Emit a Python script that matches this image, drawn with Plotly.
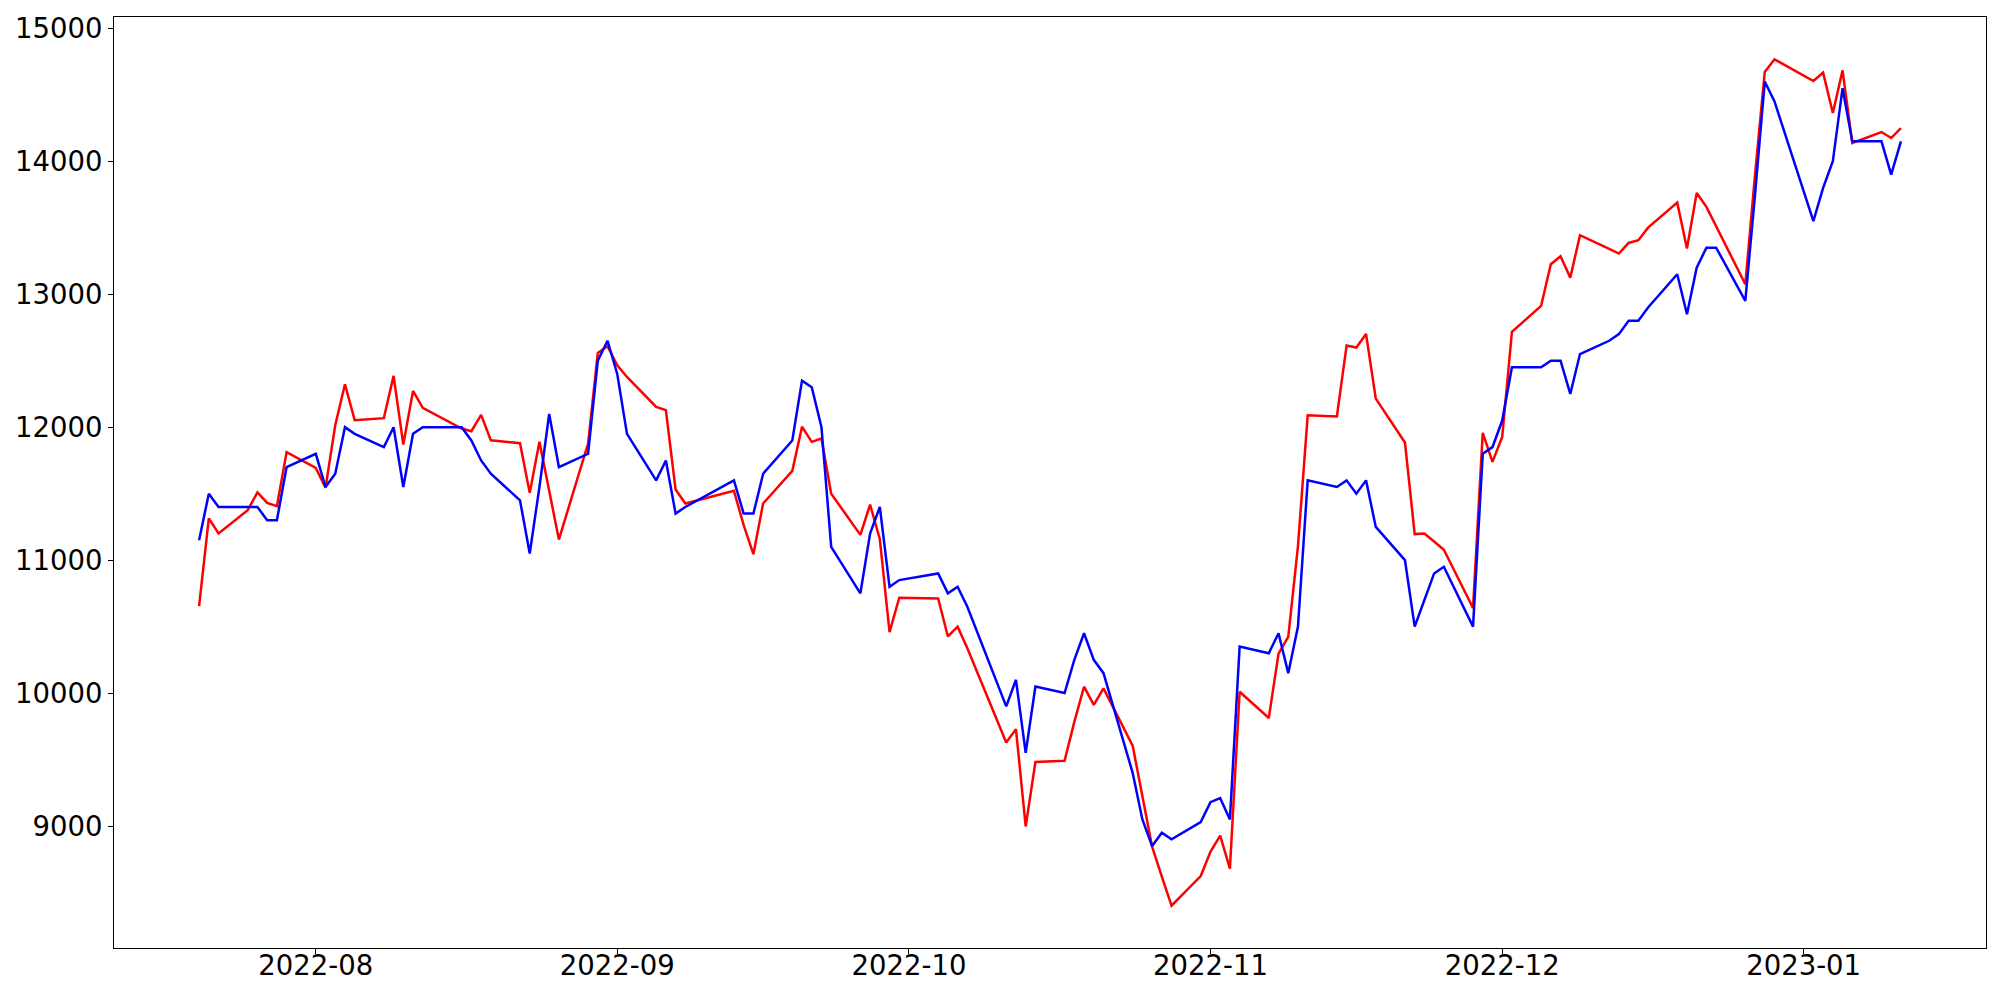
import plotly.graph_objects as go
import pandas as pd

dates = [
    "2022-07-20", "2022-07-21", "2022-07-22", "2022-07-25", "2022-07-26", "2022-07-27", "2022-07-28", "2022-07-29",
    "2022-08-01", "2022-08-02", "2022-08-03", "2022-08-04", "2022-08-05", "2022-08-08", "2022-08-09", "2022-08-10",
    "2022-08-11", "2022-08-12", "2022-08-16", "2022-08-17", "2022-08-18", "2022-08-19", "2022-08-22", "2022-08-23",
    "2022-08-24", "2022-08-25", "2022-08-26", "2022-08-29", "2022-08-30", "2022-08-31",
    "2022-09-01", "2022-09-02", "2022-09-05", "2022-09-06", "2022-09-07", "2022-09-08", "2022-09-13", "2022-09-14",
    "2022-09-15", "2022-09-16", "2022-09-19", "2022-09-20", "2022-09-21", "2022-09-22", "2022-09-23", "2022-09-26",
    "2022-09-27", "2022-09-28", "2022-09-29", "2022-09-30",
    "2022-10-04", "2022-10-05", "2022-10-06", "2022-10-07", "2022-10-11", "2022-10-12", "2022-10-13", "2022-10-14",
    "2022-10-17", "2022-10-18", "2022-10-19", "2022-10-20", "2022-10-21", "2022-10-24", "2022-10-25", "2022-10-26",
    "2022-10-27", "2022-10-28", "2022-10-31",
    "2022-11-01", "2022-11-02", "2022-11-03", "2022-11-04", "2022-11-07", "2022-11-08", "2022-11-09", "2022-11-10",
    "2022-11-11", "2022-11-14", "2022-11-15", "2022-11-16", "2022-11-17", "2022-11-18", "2022-11-21", "2022-11-22",
    "2022-11-23", "2022-11-24", "2022-11-25", "2022-11-28", "2022-11-29", "2022-11-30",
    "2022-12-01", "2022-12-02", "2022-12-05", "2022-12-06", "2022-12-07", "2022-12-08", "2022-12-09", "2022-12-12",
    "2022-12-13", "2022-12-14", "2022-12-15", "2022-12-16", "2022-12-19", "2022-12-20", "2022-12-21", "2022-12-22",
    "2022-12-23", "2022-12-26", "2022-12-27", "2022-12-28", "2022-12-29",
    "2023-01-02", "2023-01-03", "2023-01-04", "2023-01-05", "2023-01-06", "2023-01-09", "2023-01-10", "2023-01-11",
]

actual = [
    11150, 11500, 11400, 11400, 11400, 11300, 11300, 11700,
    11800, 11550, 11650, 12000, 11950, 11850, 12000, 11550,
    11950, 12000, 12000, 11900, 11750, 11650, 11450, 11050,
    11550, 12100, 11700, 11800, 12500, 12650,
    12400, 11950, 11600, 11750, 11350, 11400, 11600, 11350,
    11350, 11650, 11900, 12350, 12300, 12000, 11100, 10750,
    11200, 11400, 10800, 10850,
    10900, 10750, 10800, 10650, 9900, 10100, 9550, 10050,
    10000, 10250, 10450, 10250, 10150, 9400, 9050, 8850,
    8950, 8900, 9030,
    9180, 9210, 9050, 10350, 10300, 10450, 10150, 10500,
    11600, 11550, 11600, 11500, 11600, 11250, 11000, 10500,
    10700, 10900, 10950, 10500, 11800, 11850,
    12050, 12450, 12450, 12500, 12500, 12250, 12550, 12650,
    12700, 12800, 12800, 12900, 13150, 12850, 13200, 13350,
    13350, 12950, 13750, 14600, 14450,
    13550, 13800, 14000, 14550, 14150, 14150, 13900, 14150,
]

predicted = [
    10654, 11314, 11201, 11376, 11509, 11431, 11406, 11812,
    11694, 11544, 12015, 12323, 12053, 12068, 12386, 11870,
    12273, 12145, 11990, 11970, 12093, 11902, 11880, 11506,
    11890, 11520, 11155, 11877, 12559, 12609,
    12466, 12378, 12153, 12128, 11531, 11426, 11521, 11263,
    11045, 11426, 11672, 12003, 11890, 11915, 11500, 11190,
    11418, 11158, 10458, 10717,
    10712, 10426, 10500, 10337, 9628, 9729, 8997, 9482,
    9491, 9783, 10048, 9912, 10035, 9605, 9230, 8845,
    8619, 8401, 8624,
    8807, 8928, 8680, 10010, 9813, 10297, 10423, 11106,
    12089, 12081, 12615, 12599, 12701, 12215, 11885, 11196,
    11201, 11140, 11078, 10640, 11957, 11739,
    11927, 12717, 12912, 13226, 13286, 13125, 13444, 13341,
    13306, 13386, 13406, 13501, 13689, 13344, 13762, 13657,
    13514, 13075, 13900, 14672, 14767,
    14604, 14667, 14363, 14684, 14138, 14220, 14175, 14250,
]

y_ticks = [9000, 10000, 11000, 12000, 13000, 14000, 15000]

x = pd.to_datetime(dates)

fig = go.Figure()
fig.add_trace(go.Scatter(x=x, y=predicted, mode="lines",
                         line=dict(color="#ff0000", width=2.5), name="predicted"))
fig.add_trace(go.Scatter(x=x, y=actual, mode="lines",
                         line=dict(color="#0000ff", width=2.5), name="actual"))

# matplotlib-like 5% margins
xmin, xmax = x.min(), x.max()
xspan = xmax - xmin
allv = actual + predicted
vmin, vmax = min(allv), max(allv)
vspan = vmax - vmin

font = dict(family="DejaVu Sans", size=27.5, color="#000000")
axis_common = dict(showline=True, linecolor="#000000", linewidth=1.1, mirror=True,
                   ticks="outside", ticklen=5, tickwidth=1.1, tickcolor="#000000",
                   showgrid=False, zeroline=False, tickfont=font, automargin=False)

fig.update_xaxes(range=[xmin - 0.05 * xspan, xmax + 0.05 * xspan],
                 tickformat="%Y-%m", dtick="M1", tick0="2022-08-01",
                 ticklabelposition="outside", ticklabelstandoff=-12, **axis_common)
fig.update_yaxes(range=[vmin - 0.05 * vspan, vmax + 0.05 * vspan],
                 tickvals=y_ticks, ticktext=[str(v) for v in y_ticks], **axis_common)

# page body has an 8px margin; size/margins chosen so the plot box lands where the reference has it
fig.update_layout(width=1984, height=984, showlegend=False,
                  plot_bgcolor="#ffffff", paper_bgcolor="#ffffff",
                  margin=dict(l=106, r=6, t=9, b=44, pad=0))

fig.write_html("out.html")
